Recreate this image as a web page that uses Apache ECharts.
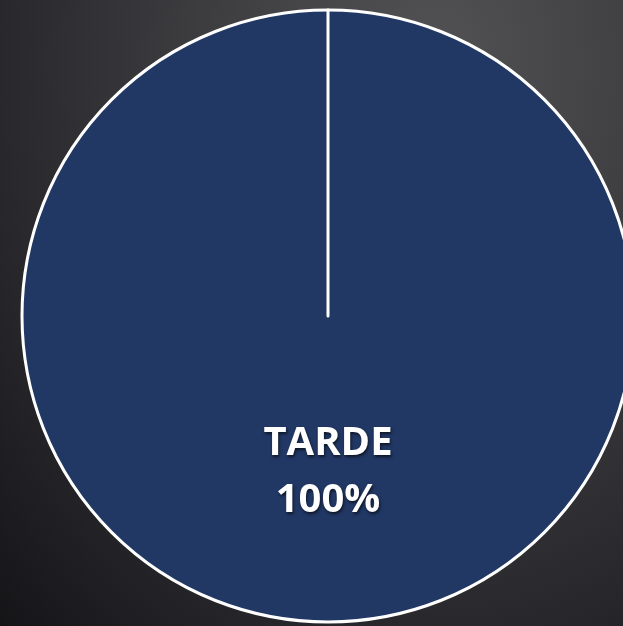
<!DOCTYPE html>
<html>
<head>
<meta charset="utf-8">
<script src="https://cdn.jsdelivr.net/npm/echarts@6/dist/echarts.min.js"></script>
<style>
  html, body { margin: 0; padding: 0; }
  body {
    width: 623px; height: 626px; overflow: hidden;
    background: radial-gradient(ellipse at 70% 10%, #525254 0%, #3c3c3f 40%, #26262a 75%, #151518 100%);
  }
  #chart { width: 623px; height: 626px; }
</style>
</head>
<body>
<div id="chart"></div>
<script>
const categories = ['TARDE', 'MAÑANA'];
const values = [100, 0];
const colors = ['#213764', '#213764'];

const chart = echarts.init(document.getElementById('chart'));

const pieData = categories.map((name, i) => ({
  name,
  value: values[i],
  itemStyle: { color: colors[i] },
  label: { show: values[i] > 0 },
}));

chart.setOption({
  backgroundColor: 'transparent',
  series: [
    {
      type: 'pie',
      center: [328, 316],
      radius: 306,
      startAngle: 90,
      clockwise: true,
      avoidLabelOverlap: false,
      silent: true,
      itemStyle: {
        borderColor: '#ffffff',
        borderWidth: 3,
      },
      label: {
        show: true,
        position: 'inside',
        formatter: (p) => `${p.name}\n${Math.round(p.percent)}%`,
        color: '#ffffff',
        fontFamily: 'Open Sans',
        fontWeight: 'bold',
        fontSize: 40,
        lineHeight: 57,
        textShadowColor: 'rgba(0,0,0,0.6)',
        textShadowBlur: 3,
        textShadowOffsetX: 1,
        textShadowOffsetY: 2,
      },
      labelLine: { show: false },
      data: pieData,
    },
  ],
});
</script>
</body>
</html>
